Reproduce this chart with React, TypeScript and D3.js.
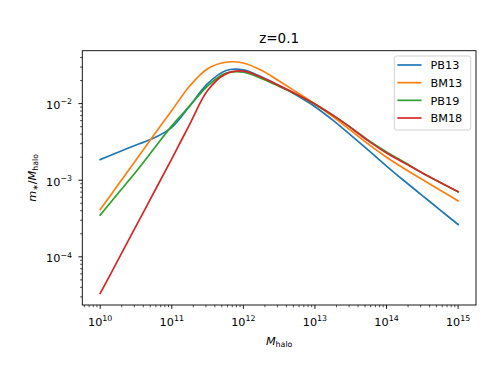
import React from 'react';
import * as d3 from 'd3';

// Halo mass grid, log10(M_halo)
const LOG_MASS = [10, 10.25, 10.5, 10.75, 11, 11.25, 11.5, 11.75, 12, 12.25, 12.5, 12.75, 13, 13.25, 13.5, 13.75, 14, 14.25, 14.5, 14.75, 15];

// log10(m_* / M_halo)
const PB13 = [-2.73, -2.635, -2.54, -2.45, -2.31, -2.03, -1.74, -1.57, -1.56, -1.65, -1.765, -1.895, -2.04, -2.215, -2.41, -2.61, -2.815, -3.01, -3.20, -3.39, -3.578];
const BM13 = [-3.383, -3.06, -2.735, -2.41, -2.09, -1.77, -1.545, -1.46, -1.47, -1.565, -1.705, -1.855, -2.005, -2.17, -2.35, -2.53, -2.70, -2.85, -2.99, -3.13, -3.27];
const PB19 = [-3.456, -3.17, -2.89, -2.59, -2.29, -2.03, -1.77, -1.605, -1.59, -1.67, -1.775, -1.885, -2.01, -2.15, -2.31, -2.48, -2.63, -2.765, -2.905, -3.03, -3.152];
const BM18 = [-4.478, -4.04, -3.60, -3.16, -2.72, -2.27, -1.83, -1.615, -1.575, -1.655, -1.765, -1.88, -2.005, -2.15, -2.315, -2.49, -2.645, -2.775, -2.905, -3.03, -3.152];

const SERIES_NAMES = ['PB13', 'BM13', 'PB19', 'BM18'];
const SERIES_VALUES = [PB13, BM13, PB19, BM18];
const SERIES_COLORS = ['#1f77b4', '#ff7f0e', '#2ca02c', '#d62728'];

const X_TICK_EXPONENTS = ['10', '11', '12', '13', '14', '15'];
const Y_TICK_EXPONENTS = ['−4', '−3', '−2'];
const TITLE = 'z=0.1';

const W = 483;
const H = 379;
const AX = { left: 82.3, right: 476, top: 50.7, bottom: 305 };
const FONT = 'DejaVu Sans';
const FS = 11.25;
const LW = 1.69;

export default function App() {
  const allY = SERIES_VALUES.flat();
  const xMin = d3.min(LOG_MASS)!, xMax = d3.max(LOG_MASS)!;
  const yMin = d3.min(allY)!, yMax = d3.max(allY)!;
  const xPad = (xMax - xMin) * 0.05;
  const yPad = (yMax - yMin) * 0.05;

  const x = d3.scaleLog().domain([10 ** (xMin - xPad), 10 ** (xMax + xPad)]).range([AX.left, AX.right]);
  const y = d3.scaleLog().domain([10 ** (yMin - yPad), 10 ** (yMax + yPad)]).range([AX.bottom, AX.top]);

  const line = d3
    .line<number>()
    .x((_, i) => x(10 ** LOG_MASS[i]))
    .y((d) => y(10 ** d))
    .curve(d3.curveCatmullRom.alpha(0.5));

  const [xd0, xd1] = x.domain();
  const [yd0, yd1] = y.domain();

  const xMinor: number[] = [];
  for (let k = 9; k <= 15; k++) for (let m = 2; m <= 9; m++) {
    const v = m * 10 ** k;
    if (v >= xd0 && v <= xd1) xMinor.push(v);
  }
  const yMinor: number[] = [];
  for (let k = -6; k <= -1; k++) for (let m = 2; m <= 9; m++) {
    const v = m * 10 ** k;
    if (v >= yd0 && v <= yd1) yMinor.push(v);
  }

  const legX = 394.3, legY = 56, legW = 76.4, legH = 74;
  const rowY = (i: number) => 65 + i * 17.67;

  return (
    <div style={{ position: 'absolute', left: 0, top: 0 }}>
      <svg width={W} height={H} style={{ display: 'block' }} fontFamily={FONT}>
        <rect x={0} y={0} width={W} height={H} fill="#ffffff" />
        <defs>
          <clipPath id="axclip">
            <rect x={AX.left} y={AX.top} width={AX.right - AX.left} height={AX.bottom - AX.top} />
          </clipPath>
        </defs>

        {/* series */}
        <g clipPath="url(#axclip)">
          {SERIES_VALUES.map((vals, i) => (
            <path key={SERIES_NAMES[i]} d={line(vals) || ''} fill="none" stroke={SERIES_COLORS[i]} strokeWidth={LW} strokeLinecap="square" strokeLinejoin="round" />
          ))}
        </g>

        {/* x ticks */}
        {xMinor.map((v) => (
          <line key={'xm' + v} x1={x(v)} x2={x(v)} y1={AX.bottom} y2={AX.bottom + 2.25} stroke="#000" strokeWidth={0.68} />
        ))}
        {X_TICK_EXPONENTS.map((e) => {
          const px = x(10 ** Number(e));
          return (
            <g key={'xt' + e}>
              <line x1={px} x2={px} y1={AX.bottom} y2={AX.bottom + 3.9} stroke="#000" strokeWidth={0.9} />
              <text x={px} y={325.5} fontSize={FS} textAnchor="middle" fill="#000">
                <tspan>10</tspan>
                <tspan dy={-4.6} fontSize={FS * 0.7}>{e}</tspan>
              </text>
            </g>
          );
        })}

        {/* y ticks */}
        {yMinor.map((v) => (
          <line key={'ym' + v} x1={AX.left} x2={AX.left - 2.25} y1={y(v)} y2={y(v)} stroke="#000" strokeWidth={0.68} />
        ))}
        {Y_TICK_EXPONENTS.map((e) => {
          const py = y(10 ** Number(e.replace('−', '-')));
          return (
            <g key={'yt' + e}>
              <line x1={AX.left} x2={AX.left - 3.9} y1={py} y2={py} stroke="#000" strokeWidth={0.9} />
              <text x={72} y={py + 5.3} fontSize={FS} textAnchor="end" fill="#000">
                <tspan>10</tspan>
                <tspan dy={-4.6} fontSize={FS * 0.7}>{e}</tspan>
              </text>
            </g>
          );
        })}

        {/* spines */}
        <rect x={AX.left} y={AX.top} width={AX.right - AX.left} height={AX.bottom - AX.top} fill="none" stroke="#000" strokeWidth={0.9} />

        {/* title */}
        <text x={(AX.left + AX.right) / 2} y={43.2} fontSize={13.5} textAnchor="middle" fill="#000">{TITLE}</text>

        {/* x label */}
        <text x={(AX.left + AX.right) / 2} y={345} fontSize={FS} textAnchor="middle" fill="#000">
          <tspan fontStyle="italic">M</tspan>
          <tspan fontSize={FS * 0.7} dy={2.2}>halo</tspan>
        </text>

        {/* y label */}
        <text transform={`translate(35.5, ${(AX.top + AX.bottom) / 2}) rotate(-90)`} fontSize={FS} textAnchor="middle" fill="#000">
          <tspan fontStyle="italic">m</tspan>
          <tspan fontSize={FS * 0.7} dy={2.2}>∗</tspan>
          <tspan dy={-2.2}>/</tspan>
          <tspan fontStyle="italic">M</tspan>
          <tspan fontSize={FS * 0.7} dy={2.2}>halo</tspan>
        </text>

        {/* legend */}
        <rect x={legX} y={legY} width={legW} height={legH} rx={2.2} ry={2.2} fill="#ffffff" fillOpacity={0.8} stroke="#cccccc" strokeWidth={0.9} />
        {SERIES_NAMES.map((n, i) => (
          <g key={'lg' + n}>
            <line x1={398.2} x2={420.7} y1={rowY(i)} y2={rowY(i)} stroke={SERIES_COLORS[i]} strokeWidth={LW} strokeLinecap="square" />
            <text x={430.5} y={rowY(i) + 4.3} fontSize={FS} fill="#000">{n}</text>
          </g>
        ))}
      </svg>
    </div>
  );
}
